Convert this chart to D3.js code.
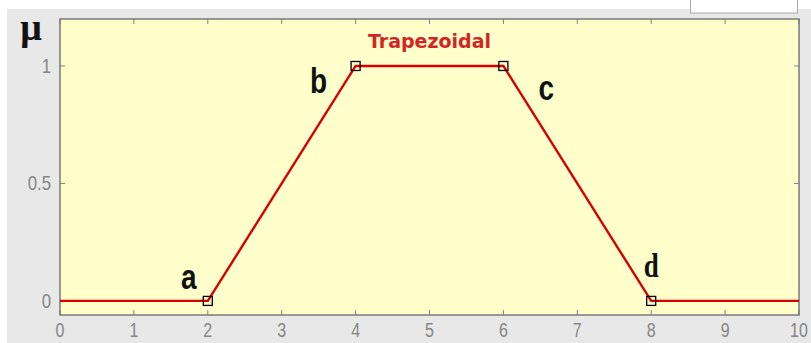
<!DOCTYPE html>
<html>
<head>
<meta charset="utf-8">
<script src="https://cdn.jsdelivr.net/npm/d3@7"></script>
<style>
  body { margin: 0; background: #ffffff; }
  #chart { width: 811px; height: 343px; }
  .tick-label { font-family: "Liberation Sans", Arial, sans-serif; font-size: 16px; fill: #858585; }
  .pt-label { font-family: "Liberation Sans", Arial, sans-serif; font-weight: bold; font-size: 28px; fill: #111; }
</style>
</head>
<body>
<div id="chart"></div>
<script>
// membership function data
const xValues = [0, 2, 4, 6, 8, 10];
const muValues = [0, 0, 1, 1, 0, 0];

// corner points a, b, c, d
const cornerNames = ["a", "b", "c", "d"];
const cornerX = [2, 4, 6, 8];
const cornerMu = [0, 1, 1, 0];

const xTicks = [0, 1, 2, 3, 4, 5, 6, 7, 8, 9, 10];
const yTicks = [0, 0.5, 1];
const yTickLabels = ["0", "0.5", "1"];
const titleText = "Trapezoidal";
const yTitle = "\u03bc";

let margin = { top: 19, right: 12, bottom: 28, left: 60 };
let width = 811 - margin.left - margin.right;
let height = 343 - margin.top - margin.bottom;

let svg = d3.select("#chart")
  .append("svg")
  .attr("width", 811)
  .attr("height", 343);

// window background
svg.append("rect")
  .attr("x", 7).attr("y", 9)
  .attr("width", 804).attr("height", 334)
  .attr("fill", "#e8e8e8");

// legend box cut off at top right
svg.append("rect")
  .attr("x", 690.5).attr("y", -2)
  .attr("width", 107).attr("height", 15)
  .attr("fill", "#ffffff")
  .attr("stroke", "#a8a8a8");

let g = svg.append("g")
  .attr("transform", `translate(${margin.left},${margin.top})`);

let x = d3.scaleLinear().domain([0, 10]).range([0, width]);
let y = d3.scaleLinear().domain([-0.06, 1.2]).range([height, 0]);

// plot background
g.append("rect")
  .attr("width", width)
  .attr("height", height)
  .attr("fill", "#ffffcc");

// ticks (inside, on all four sides)
let tickLen = 5;
g.append("g").selectAll("line")
  .data(xTicks)
  .enter()
  .append("line")
  .attr("x1", d => x(d)).attr("x2", d => x(d))
  .attr("y1", height).attr("y2", height - tickLen)
  .attr("stroke", "#808080");
g.append("g").selectAll("line")
  .data(xTicks)
  .enter()
  .append("line")
  .attr("x1", d => x(d)).attr("x2", d => x(d))
  .attr("y1", 0).attr("y2", tickLen)
  .attr("stroke", "#808080");
g.append("g").selectAll("line")
  .data(yTicks)
  .enter()
  .append("line")
  .attr("x1", 0).attr("x2", tickLen)
  .attr("y1", d => y(d)).attr("y2", d => y(d))
  .attr("stroke", "#808080");
g.append("g").selectAll("line")
  .data(yTicks)
  .enter()
  .append("line")
  .attr("x1", width).attr("x2", width - tickLen)
  .attr("y1", d => y(d)).attr("y2", d => y(d))
  .attr("stroke", "#808080");

// tick labels, a bit tall and narrow like the original
g.append("g").selectAll("g")
  .data(xTicks)
  .enter()
  .append("g")
  .attr("transform", d => `translate(${x(d)},${height + 22})`)
  .append("text")
  .attr("class", "tick-label")
  .attr("text-anchor", "middle")
  .attr("transform", "scale(1,1.22)")
  .text(d => d);

g.append("g").selectAll("g")
  .data(yTicks)
  .enter()
  .append("g")
  .attr("transform", d => `translate(-9,${y(d) + 7})`)
  .append("text")
  .attr("class", "tick-label")
  .attr("text-anchor", "end")
  .attr("transform", "scale(1.05,1.25)")
  .text((d, i) => yTickLabels[i]);

// plot frame
g.append("rect")
  .attr("width", width)
  .attr("height", height)
  .attr("fill", "none")
  .attr("stroke", "#7a7a7a")
  .attr("stroke-width", 1.5);

// membership line
let line = d3.line()
  .x(d => x(d[0]))
  .y(d => y(d[1]));

g.append("path")
  .datum(xValues.map((v, i) => [v, muValues[i]]))
  .attr("d", line)
  .attr("fill", "none")
  .attr("stroke", "#d80000")
  .attr("stroke-width", 2.4);

// corner markers
g.append("g").selectAll("rect")
  .data(cornerX)
  .enter()
  .append("rect")
  .attr("x", d => x(d) - 4.5)
  .attr("y", (d, i) => y(cornerMu[i]) - 4.5)
  .attr("width", 9)
  .attr("height", 9)
  .attr("fill", "none")
  .attr("stroke", "#000")
  .attr("stroke-width", 1.3);

// corner labels
let labelOffset = [[-19, -12], [-37, 27], [43, 34], [0, -24]];
g.append("g").selectAll("g")
  .data(cornerNames)
  .enter()
  .append("g")
  .attr("transform", (d, i) =>
    `translate(${x(cornerX[i]) + labelOffset[i][0]},${y(cornerMu[i]) + labelOffset[i][1]})`)
  .append("text")
  .attr("class", "pt-label")
  .attr("text-anchor", "middle")
  .attr("transform", "scale(1,1.28)")
  .style("font-family", d => d === "d" ? "'Liberation Serif', 'Times New Roman', serif" : null)
  .style("font-size", d => d === "d" ? "27px" : null)
  .text(d => d);

// title above the plateau
g.append("text")
  .attr("x", x((cornerX[1] + cornerX[2]) / 2))
  .attr("y", y(1) - 18)
  .attr("text-anchor", "middle")
  .style("font-family", "'DejaVu Sans', Verdana, sans-serif")
  .style("font-weight", "bold")
  .style("font-size", "19px")
  .attr("fill", "#d42525")
  .text(titleText);

// y axis title
svg.append("text")
  .attr("x", 31)
  .attr("y", 40)
  .attr("text-anchor", "middle")
  .style("font-family", "'Liberation Serif', 'Times New Roman', serif")
  .style("font-weight", "bold")
  .style("font-size", "38px")
  .attr("fill", "#111")
  .text(yTitle);
</script>
</body>
</html>
